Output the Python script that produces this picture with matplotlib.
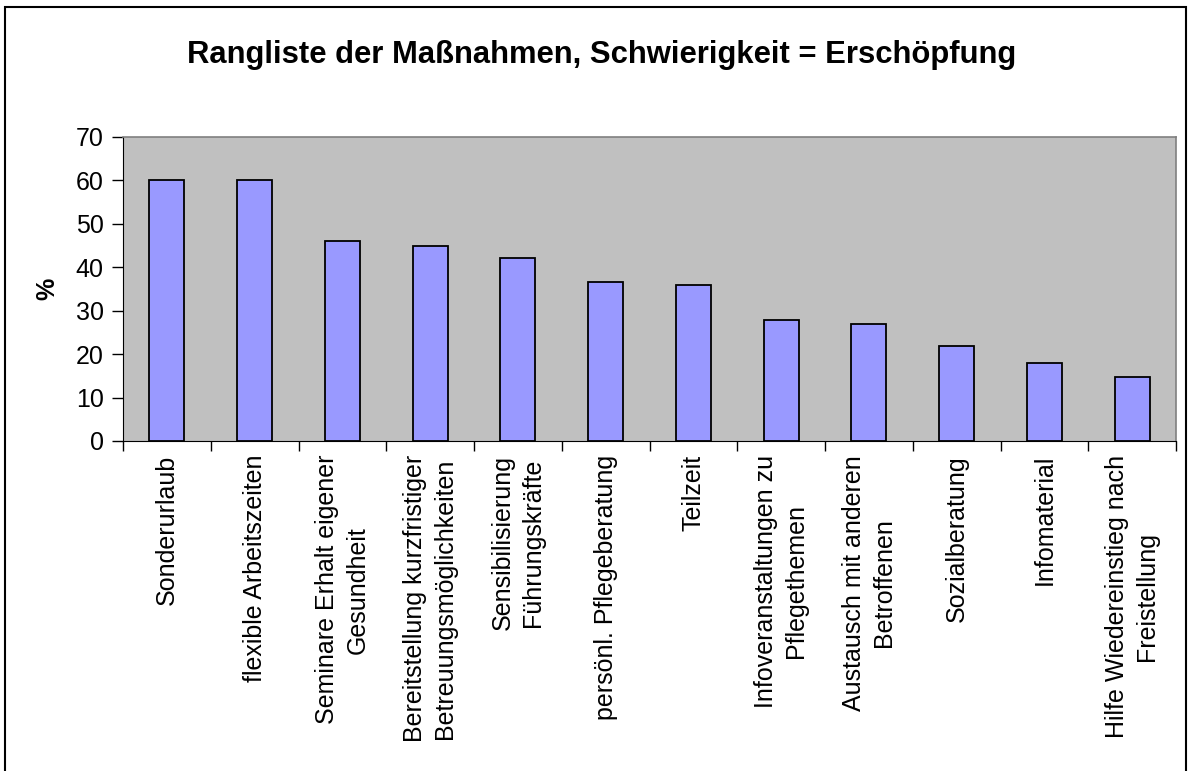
import matplotlib.pyplot as plt
from matplotlib.patches import Rectangle

plt.rcParams['font.family'] = ['Liberation Sans', 'DejaVu Sans']

# Daten
massnahmen = ['Sonderurlaub', 'flexible Arbeitszeiten', 'Seminare Erhalt eigener\nGesundheit',
              'Bereitstellung kurzfristiger\nBetreuungsmöglichkeiten', 'Sensibilisierung\nFührungskräfte',
              'persönl. Pflegeberatung', 'Teilzeit', 'Infoveranstaltungen zu\nPflegethemen',
              'Austausch mit anderen\nBetroffenen', 'Sozialberatung', 'Infomaterial',
              'Hilfe Wiedereinstieg nach\nFreistellung']
prozent = [60.0, 60.0, 46.1, 44.8, 42.2, 36.7, 35.9, 27.8, 26.9, 21.9, 17.9, 14.7]
y_ticks = [0, 10, 20, 30, 40, 50, 60, 70]

fig = plt.figure(figsize=(11.9, 7.71), dpi=100)
ax = fig.add_axes([123 / 1190, 1 - 441 / 771, (1176 - 123) / 1190, (441 - 137) / 771])

x = range(len(massnahmen))
ax.bar(x, prozent, width=0.4, color='#9999FF', edgecolor='black', linewidth=1.3, zorder=3)

ax.set_facecolor('#C0C0C0')
ax.set_xlim(-0.5, len(massnahmen) - 0.5)
ax.set_ylim(0, 70)
ax.set_yticks(y_ticks)
ax.tick_params(axis='y', labelsize=18, length=8, pad=6, direction='out', width=1)
ax.set_xticks([i - 0.5 for i in range(len(massnahmen) + 1)])
ax.set_xticklabels([])
ax.tick_params(axis='x', length=7, width=1)
for i, lab in enumerate(massnahmen):
    ax.text(i, -3.2, lab, rotation=90, ha='center', va='top', fontsize=18,
            multialignment='center', linespacing=1.35)

for s in ['top', 'right']:
    ax.spines[s].set_color('#808080')
    ax.spines[s].set_linewidth(1.2)
for s in ['left', 'bottom']:
    ax.spines[s].set_color('black')

ax.set_ylabel('%', fontsize=18, fontweight='bold', labelpad=12)

fig.text(602 / 1190, 1 - 55 / 771, 'Rangliste der Maßnahmen, Schwierigkeit = Erschöpfung',
         ha='center', va='center', fontsize=22.3, fontweight='bold')

# Rahmen um die Grafik
fig.patches.append(Rectangle((5 / 1190, -0.05), 1 - 9 / 1190, 1.05 - 7 / 771,
                             transform=fig.transFigure, fill=False, edgecolor='black', linewidth=1.5))

fig.savefig('out.png', dpi=100)
